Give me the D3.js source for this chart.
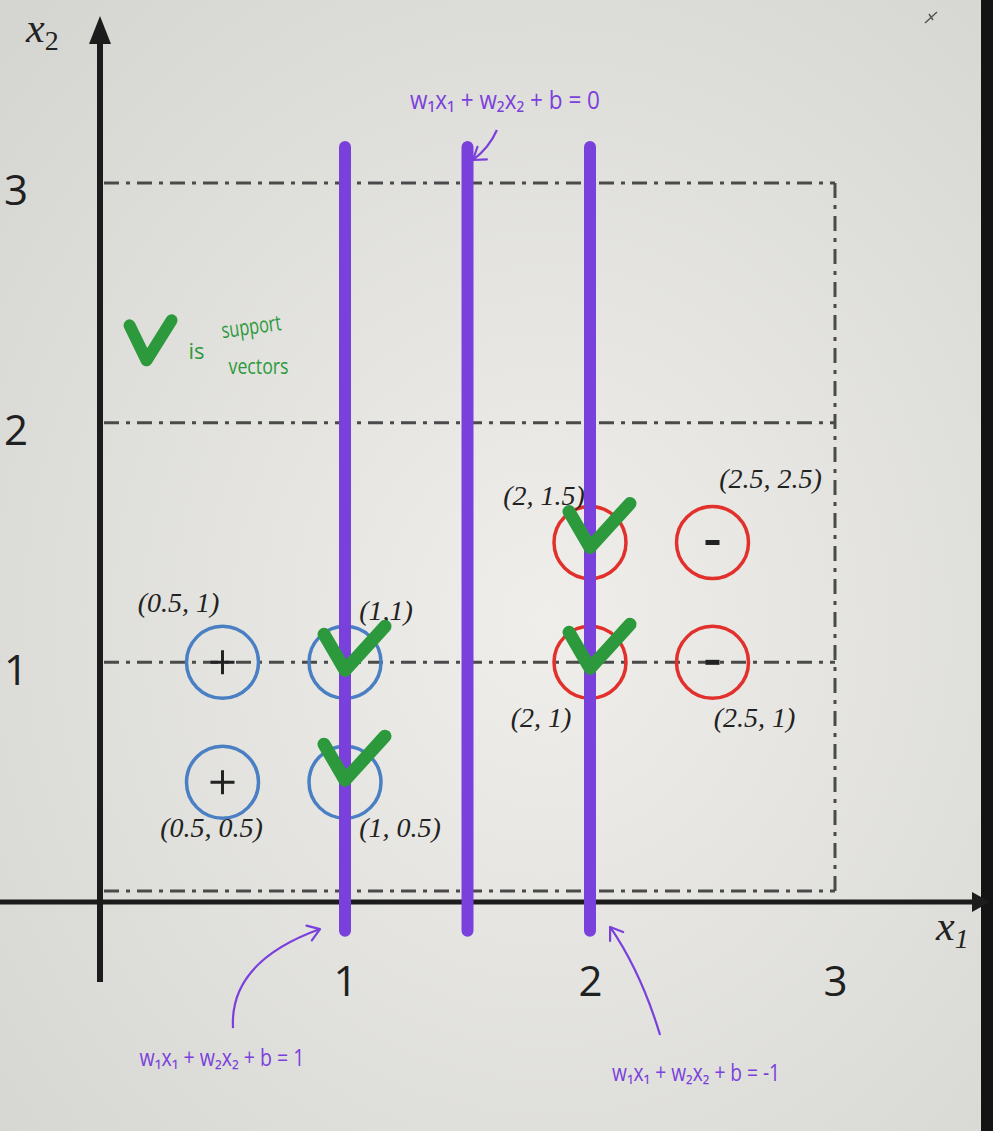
<!DOCTYPE html>
<html><head><meta charset="utf-8">
<script src="https://cdn.jsdelivr.net/npm/d3@7"></script>
<style>html,body{margin:0;padding:0;background:#e4e3df;overflow:hidden}</style>
</head><body><svg id="c" width="993" height="1131"></svg>
<script>
// ---------- data ----------
const pointX = [0.5, 1, 0.5, 1, 2, 2.5, 2, 2.5];
const pointY = [1, 1, 0.5, 0.5, 1.5, 1.5, 1, 1];
const pointClass = ["+", "+", "+", "+", "-", "-", "-", "-"];
const pointLabels = ["(0.5, 1)", "(1,1)", "(0.5, 0.5)", "(1, 0.5)", "(2, 1.5)", "(2.5, 2.5)", "(2, 1)", "(2.5, 1)"];
const supportVector = [false, true, false, true, true, false, true, false];
const hyperplaneX = [1, 1.5, 2];
const hyperplaneSpan = [-0.12, 3.15];
const hyperplaneLabels = ["w\u2081x\u2081 + w\u2082x\u2082 + b = 1", "w\u2081x\u2081 + w\u2082x\u2082 + b = 0", "w\u2081x\u2081 + w\u2082x\u2082 + b = -1"];
const gridY = [1, 2, 3];
const boxMax = 3;
const xTicks = [1, 2, 3];
const yTicks = [1, 2, 3];
const legendText = ["is", "support", "vectors"];

// ---------- layout (positions / styles) ----------
const W = 993, H = 1131;
const svg = d3.select("#c");
const x = d3.scaleLinear().domain([0, 3]).range([100, 835]);
const y = d3.scaleLinear().domain([0, 3]).range([902, 183]);

const labelOffset = [[-44,-50],[41,-42],[-11,55],[55,55],[-46,-38],[58,-55],[-49,65],[42,65]];
const checkShift = [0, 0, 0, -10, -3, 0, -2, 0];
// annotation geometry in data units: text centre, arrow start, control, end
const annot = [
  {t:[0.498,-0.651], s:[0.543,-0.526], c:[0.527,-0.25], e:[0.898,-0.113], w:165, fs:23},
  {t:[1.653, 3.346], s:[1.620, 3.221], c:[1.588,3.146], e:[1.522, 3.096], w:190, fs:26},
  {t:[2.433,-0.713], s:[2.286,-0.555], c:[2.208,-0.292], e:[2.082,-0.104], w:168, fs:23}
];
const PURPLE = "#7a40dc", GREEN = "#2c9a3c", BLUE = "#4a7fc4", RED = "#e2302c", INK = "#1c1c1c";

// background
const defs = svg.append("defs");
const rg = defs.append("radialGradient").attr("id","bg").attr("cx","55%").attr("cy","55%").attr("r","75%");
rg.append("stop").attr("offset","0%").attr("stop-color","#efeeea");
rg.append("stop").attr("offset","100%").attr("stop-color","#d5d5d1");
svg.append("rect").attr("width",W).attr("height",H).attr("fill","url(#bg)");
svg.append("rect").attr("x",981).attr("width",12).attr("height",H).attr("fill","#141414");
// tiny scribble top-right
svg.append("path").attr("d","M925,23 L937,12 M929,14 L933,20").attr("stroke","#555").attr("stroke-width",1.5).attr("fill","none");

// dash-dot box lines
const dashStyle = "15,7,4,7";
const grid = svg.append("g").attr("stroke","#4a4a4a").attr("stroke-width",3).attr("stroke-dasharray",dashStyle).attr("fill","none");
grid.selectAll("line.h").data(gridY).join("line").attr("class","h")
  .attr("x1", x(0)+4).attr("x2", x(boxMax)).attr("y1", d=>y(d)).attr("y2", d=>y(d));
grid.append("line").attr("x1", x(0)+4).attr("x2", x(boxMax)).attr("y1", y(0)-11).attr("y2", y(0)-11);
grid.append("line").attr("x1", x(boxMax)).attr("x2", x(boxMax)).attr("y1", y(3)).attr("y2", y(0)-11);

// axes lines with arrows
svg.append("line").attr("x1", x(0)).attr("x2", x(0)).attr("y1", 40).attr("y2", 982)
  .attr("stroke", INK).attr("stroke-width", 6);
svg.append("path").attr("d", `M${x(0)-11},${44} L${x(0)},${16} L${x(0)+11},${44} Z`).attr("fill", INK);
svg.append("line").attr("x1", 0).attr("x2", 975).attr("y1", y(0)).attr("y2", y(0))
  .attr("stroke", INK).attr("stroke-width", 5);
svg.append("path").attr("d", `M${972},${y(0)-10} L${990},${y(0)} L${972},${y(0)+10} Z`).attr("fill", INK);

// tick labels via d3 axes
const gx = svg.append("g").attr("transform", `translate(0,${y(0)})`)
  .call(d3.axisBottom(x).tickValues(xTicks).tickSize(0).tickPadding(64).tickFormat(d3.format("d")));
const gy = svg.append("g").attr("transform", `translate(${x(0)},0)`)
  .call(d3.axisLeft(y).tickValues(yTicks).tickSize(0).tickPadding(72).tickFormat(d3.format("d")));
[gx, gy].forEach(g => {
  g.select(".domain").remove();
  g.selectAll("text").attr("font-family","'Open Sans', 'DejaVu Sans', sans-serif").attr("font-size",42).attr("fill","#202020");
});
gy.selectAll("text").attr("dy","0.52em");

// axis titles
const t2 = svg.append("text").attr("x", 26).attr("y", 42).attr("font-family","'Liberation Serif', serif").attr("font-style","italic").attr("font-size",42).attr("fill","#222");
t2.append("tspan").text("x");
t2.append("tspan").attr("font-size",28).attr("font-style","normal").attr("dy",8).text("2");
const t1 = svg.append("text").attr("x", 936).attr("y", 940).attr("font-family","'Liberation Serif', serif").attr("font-style","italic").attr("font-size",42).attr("fill","#222");
t1.append("tspan").text("x");
t1.append("tspan").attr("font-size",28).attr("dy",8).text("1");

// data points
const pts = pointX.map((px,i)=>({x:px, y:pointY[i], cls:pointClass[i], label:pointLabels[i], sv:supportVector[i], off:labelOffset[i], cs:checkShift[i]}));
const pg = svg.append("g");
pg.selectAll("circle").data(pts).join("circle")
  .attr("cx", d=>x(d.x)).attr("cy", d=>y(d.y)).attr("r", 36)
  .attr("fill","none").attr("stroke", d=>d.cls==="+"?BLUE:RED).attr("stroke-width",3.5);
pg.selectAll("path.sign").data(pts.filter(d=>!d.sv)).join("path").attr("class","sign")
  .attr("d", d=>{const cx=x(d.x), cy=y(d.y);
    return d.cls==="+" ? `M${cx-12},${cy} L${cx+12},${cy} M${cx},${cy-12} L${cx},${cy+12}` : `M${cx-7},${cy} L${cx+7},${cy}`;})
  .attr("stroke","#222").attr("stroke-width", d=>d.cls==="+"?3:5).attr("fill","none");
pg.selectAll("text").data(pts).join("text")
  .attr("x", d=>x(d.x)+d.off[0]).attr("y", d=>y(d.y)+d.off[1])
  .attr("text-anchor","middle").attr("font-family","'Liberation Serif', 'DejaVu Serif', serif")
  .attr("font-style","italic").attr("font-size",28).attr("fill","#222").text(d=>d.label);

// hyperplanes
svg.append("g").selectAll("line").data(hyperplaneX).join("line")
  .attr("x1", d=>x(d)).attr("x2", d=>x(d)).attr("y1", y(hyperplaneSpan[1])).attr("y2", y(hyperplaneSpan[0]))
  .attr("stroke", PURPLE).attr("stroke-width", 12).attr("stroke-linecap","round");

// check marks on support vectors
const checkPath = (cx, cy, s) => `M${cx-21*s},${cy-28*s} L${cx},${cy+8*s} L${cx+40*s},${cy-36*s}`;
svg.append("g").selectAll("path").data(pts.filter(d=>d.sv)).join("path")
  .attr("d", d=>checkPath(x(d.x), y(d.y)+d.cs, 1))
  .attr("fill","none").attr("stroke", GREEN).attr("stroke-width", 13)
  .attr("stroke-linecap","round").attr("stroke-linejoin","round");

// legend
const lx = x(0.19), ly = y(2.26);
svg.append("path").attr("d", `M${lx-17},${ly-35} L${lx},${ly} L${lx+25},${ly-40}`)
  .attr("fill","none").attr("stroke", GREEN).attr("stroke-width", 12)
  .attr("stroke-linecap","round").attr("stroke-linejoin","round");
const lg = svg.append("g").attr("fill", GREEN).attr("font-family","'Open Sans', sans-serif").attr("font-size",22);
lg.append("text").attr("x", lx+42).attr("y", ly-1).text(legendText[0]);
lg.append("text").attr("x", lx+76).attr("y", ly-22).attr("transform", `rotate(-8 ${lx+76} ${ly-22})`).attr("textLength",60).attr("lengthAdjust","spacingAndGlyphs").text(legendText[1]);
lg.append("text").attr("x", lx+82).attr("y", ly+14).attr("textLength",60).attr("lengthAdjust","spacingAndGlyphs").text(legendText[2]);

// hyperplane annotations
const ag = svg.append("g");
annot.forEach((a,i)=>{
  const S=[x(a.s[0]),y(a.s[1])], C=[x(a.c[0]),y(a.c[1])], E=[x(a.e[0]),y(a.e[1])];
  const p = d3.path(); p.moveTo(S[0],S[1]); p.quadraticCurveTo(C[0],C[1],E[0],E[1]);
  ag.append("path").attr("d", p.toString()).attr("fill","none").attr("stroke",PURPLE).attr("stroke-width",2.2);
  const ang = Math.atan2(E[1]-C[1], E[0]-C[0]);
  const L = 14, sp = 0.6;
  const h = d3.path();
  h.moveTo(E[0]-L*Math.cos(ang-sp), E[1]-L*Math.sin(ang-sp)); h.lineTo(E[0],E[1]);
  h.lineTo(E[0]-L*Math.cos(ang+sp), E[1]-L*Math.sin(ang+sp));
  ag.append("path").attr("d", h.toString()).attr("fill","none").attr("stroke",PURPLE).attr("stroke-width",2.2).attr("stroke-linecap","round").attr("stroke-linejoin","round");
  ag.append("text").attr("x", x(a.t[0])).attr("y", y(a.t[1])+a.fs*0.35).attr("text-anchor","middle")
    .attr("font-family","'Open Sans', sans-serif").attr("font-size", a.fs).attr("fill", PURPLE)
    .attr("textLength", a.w).attr("lengthAdjust","spacingAndGlyphs").text(hyperplaneLabels[i]);
});
</script></body></html>
